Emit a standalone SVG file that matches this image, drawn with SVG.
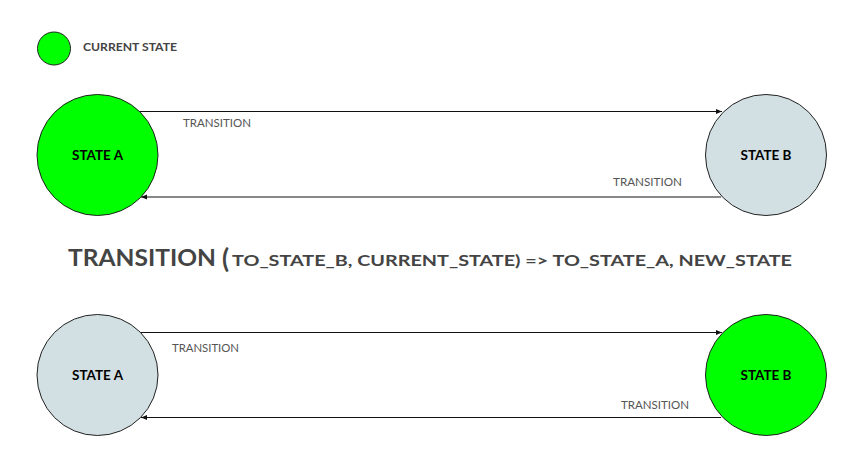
<svg xmlns="http://www.w3.org/2000/svg" width="861" height="475" viewBox="0 0 861 475">
<style>
.node{stroke:#222;stroke-width:1}
.cur{fill:#00ff00}
.idle{fill:#d3e0e3}
.nlabel{font-family:Lato,"Open Sans","Liberation Sans",sans-serif;font-weight:bold;font-size:12.5px;fill:#000;text-anchor:middle}
.elabel{font-family:Lato,"Open Sans","Liberation Sans",sans-serif;font-size:11px;fill:#555}
.edge{stroke:#111;stroke-width:1;fill:none}
.big{font-family:Lato,"Open Sans","Liberation Sans",sans-serif;font-weight:bold;fill:#444}
</style>
<defs>
<marker id="ah" viewBox="0 0 10 10" refX="10" refY="5" markerWidth="6" markerHeight="6" markerUnits="userSpaceOnUse" orient="auto">
<path d="M0,1 L10,5 L0,9 Z" fill="#111"/>
</marker>
</defs>
<rect width="861" height="475" fill="#fff"/>
<g id="legend">
<circle class="node cur" cx="54" cy="48.5" r="16.5"/>
<text class="big" x="83" y="51" font-size="10.5" textLength="94" lengthAdjust="spacingAndGlyphs">CURRENT STATE</text>
</g>
<g id="connectors">
<line class="edge" x1="140" y1="111.5" x2="722" y2="111.5" marker-end="url(#ah)"/>
<line class="edge" x1="721" y1="197" x2="141" y2="197" marker-end="url(#ah)"/>
<line class="edge" x1="140" y1="332.5" x2="722" y2="332.5" marker-end="url(#ah)"/>
<line class="edge" x1="721" y1="417.5" x2="141" y2="417.5" marker-end="url(#ah)"/>
<text class="elabel" x="183" y="127" textLength="68" lengthAdjust="spacingAndGlyphs">TRANSITION</text>
<text class="elabel" x="613" y="185.5" textLength="69" lengthAdjust="spacingAndGlyphs">TRANSITION</text>
<text class="elabel" x="172" y="352" textLength="67" lengthAdjust="spacingAndGlyphs">TRANSITION</text>
<text class="elabel" x="621" y="408.5" textLength="68" lengthAdjust="spacingAndGlyphs">TRANSITION</text>
</g>
<g id="stateA1">
<circle class="node cur" cx="97.5" cy="155" r="60.5"/>
<text class="nlabel" x="97.5" y="159.5" textLength="51" lengthAdjust="spacingAndGlyphs">STATE A</text>
</g>
<g id="stateB1">
<circle class="node idle" cx="766" cy="155" r="60.5"/>
<text class="nlabel" x="766" y="159.5" textLength="51" lengthAdjust="spacingAndGlyphs">STATE B</text>
</g>
<g id="formula">
<text class="big" x="68" y="266" font-size="23" textLength="148" lengthAdjust="spacingAndGlyphs">TRANSITION</text>
<text class="big" x="222" y="267.5" font-size="26">(</text>
<text class="big" x="232" y="266" font-size="16" textLength="560" lengthAdjust="spacingAndGlyphs">TO_STATE_B,  CURRENT_STATE)  =&gt;  TO_STATE_A,  NEW_STATE</text>
</g>
<g id="stateA2">
<circle class="node idle" cx="97.5" cy="375" r="60.5"/>
<text class="nlabel" x="97.5" y="380" textLength="51" lengthAdjust="spacingAndGlyphs">STATE A</text>
</g>
<g id="stateB2">
<circle class="node cur" cx="766" cy="375" r="60.5"/>
<text class="nlabel" x="766" y="380" textLength="51" lengthAdjust="spacingAndGlyphs">STATE B</text>
</g>
</svg>
